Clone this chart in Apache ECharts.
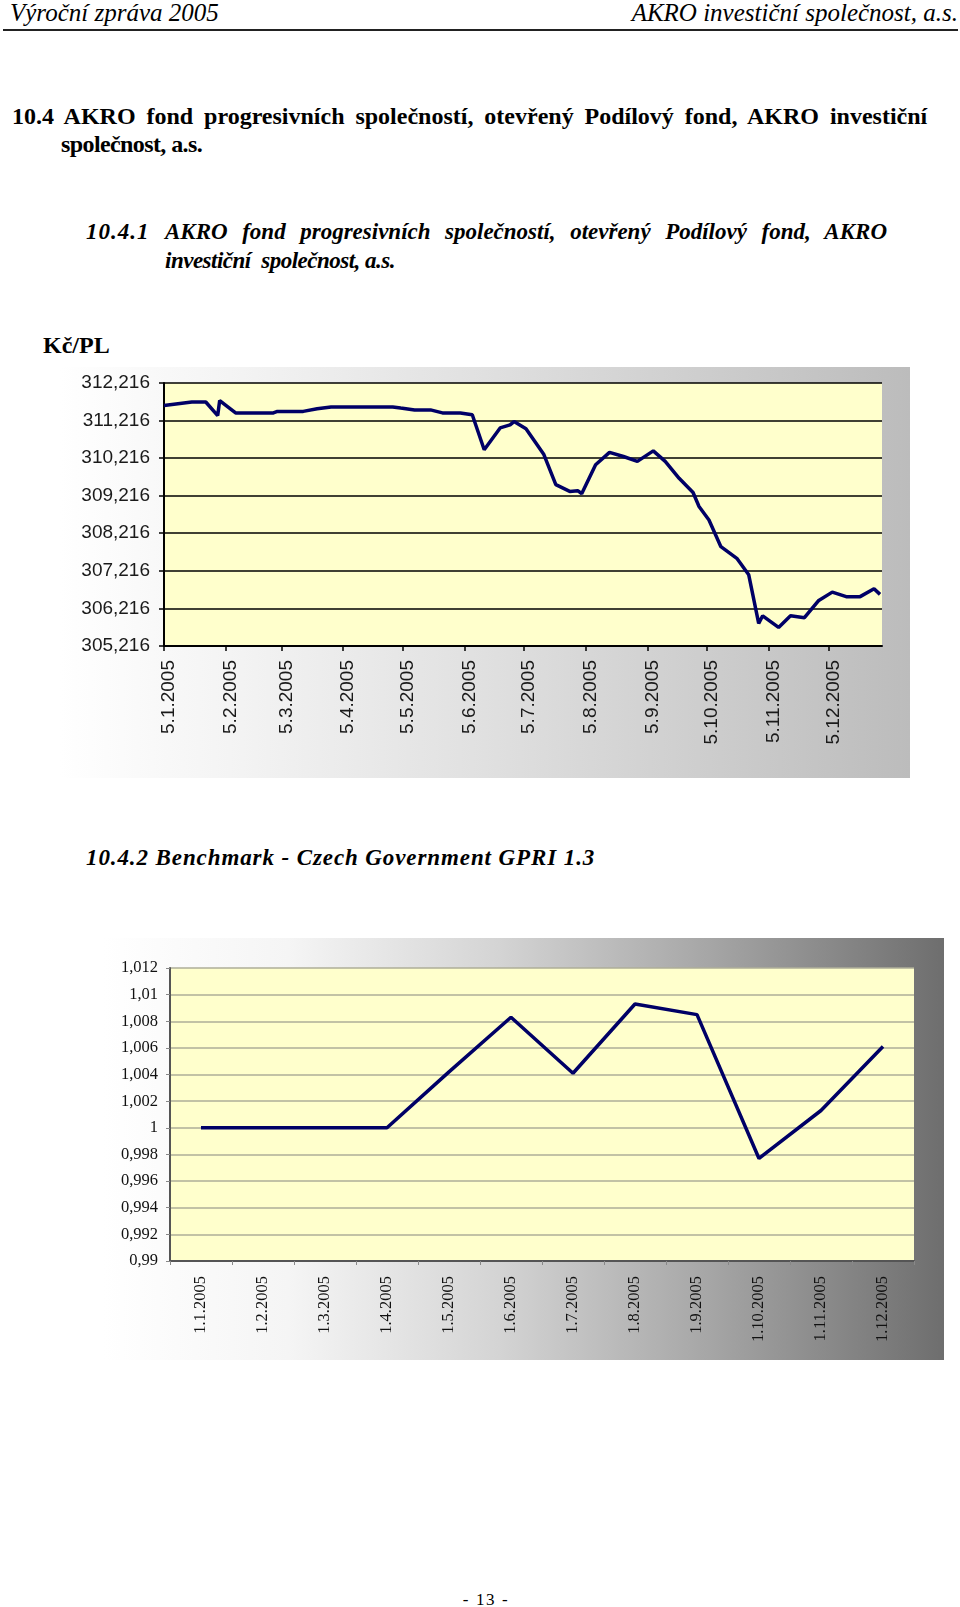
<!DOCTYPE html>
<html lang="cs">
<head>
<meta charset="utf-8">
<title>Výroční zpráva 2005</title>
<script src="https://cdn.jsdelivr.net/npm/echarts@6.0.0/dist/echarts.min.js"></script>
<style>
  html, body { margin: 0; padding: 0; background: #fff; }
  body { position: relative; width: 960px; height: 1607px; overflow: hidden; font-family: "Liberation Serif", "Times New Roman", serif; color: #000; }
  .abs { position: absolute; white-space: nowrap; }
  .rule { position: absolute; left: 3px; top: 29px; width: 955px; height: 2px; background: #222; }
  #fund { position: absolute; left: 60px; top: 367px; width: 850px; height: 411px;
    background: linear-gradient(to right, #ffffff 0%, #f4f4f4 20%, #e0e0e0 50%, #bcbcbc 100%); }
  #bench { position: absolute; left: 103px; top: 938px; width: 841px; height: 422px;
    background: linear-gradient(to right, #ffffff 0%, #f5f5f5 22%, #d4d4d4 47%, #a6a6a6 72%, #6e6e6e 100%); }
</style>
</head>
<body>
<div class="abs" style="left:10px;top:0;font:italic 25px/25px 'Liberation Serif'">Výroční zpráva 2005</div>
<div class="abs" style="right:2px;top:0;font:italic 25px/25px 'Liberation Serif'">AKRO investiční společnost, a.s.</div>
<div class="rule"></div>

<div class="abs" style="left:12px;top:102px;font:bold 24px/28px 'Liberation Serif'"><span style="word-spacing:4.9px">10.4 AKRO fond progresivních společností, otevřený Podílový fond, AKRO investiční</span><br><span style="padding-left:49px;letter-spacing:-0.6px">společnost, a.s.</span></div>

<div class="abs" style="left:86px;top:218px;font:italic bold 23px/28.7px 'Liberation Serif';letter-spacing:1px">10.4.1</div>
<div class="abs" style="left:165px;top:218px;font:italic bold 23px/28.7px 'Liberation Serif'"><span style="word-spacing:8.8px">AKRO fond progresivních společností, otevřený Podílový fond, AKRO</span><br><span style="letter-spacing:-0.5px">investiční&nbsp; společnost, a.s.</span></div>

<div class="abs" style="left:43px;top:333px;font:bold 24px/24px 'Liberation Serif'">Kč/PL</div>
<div id="fund"></div>

<div class="abs" style="left:86px;top:846px;font:italic bold 23px/23px 'Liberation Serif';letter-spacing:0.9px">10.4.2 Benchmark - Czech Government GPRI 1.3</div>
<div id="bench"></div>

<div class="abs" style="left:440px;width:92px;text-align:center;top:1591px;font:17px/17px 'Liberation Serif';letter-spacing:1.6px">- 13 -</div>

<script>
// hodnota podilu fondu (Kc/PL)
const fundDates = [
  '2005-01-05', '2005-01-19', '2005-01-26', '2005-02-01', '2005-02-02', '2005-02-10',
  '2005-03-01', '2005-03-03', '2005-03-16', '2005-03-23', '2005-03-30', '2005-03-31',
  '2005-04-06', '2005-04-30', '2005-05-04', '2005-05-11', '2005-05-19', '2005-05-25',
  '2005-06-03', '2005-06-09', '2005-06-15', '2005-06-23', '2005-06-28', '2005-06-30',
  '2005-07-06', '2005-07-15', '2005-07-21', '2005-07-28', '2005-08-01', '2005-08-03',
  '2005-08-10', '2005-08-17', '2005-08-24', '2005-08-31', '2005-09-08', '2005-09-14',
  '2005-09-21', '2005-09-28', '2005-10-01', '2005-10-06', '2005-10-12', '2005-10-20',
  '2005-10-26', '2005-10-31', '2005-11-02', '2005-11-10', '2005-11-16', '2005-11-23',
  '2005-11-30', '2005-12-07', '2005-12-14', '2005-12-21', '2005-12-28', '2005-12-31'
]
const fundValues = [
  311.62, 311.71, 311.71, 311.35, 311.75, 311.42,
  311.42, 311.46, 311.46, 311.53, 311.58, 311.53,
  311.58, 311.58, 311.55, 311.50, 311.50, 311.42,
  311.42, 311.37, 310.44, 311.02, 311.10, 311.19,
  311.00, 310.31, 309.51, 309.33, 309.35, 309.27,
  310.04, 310.37, 310.26, 310.13, 310.41, 310.13,
  309.68, 309.30, 308.93, 308.57, 307.86, 307.55,
  307.11, 305.82, 306.02, 305.71, 306.02, 305.97,
  306.42, 306.65, 306.53, 306.53, 306.74, 306.59
]
// popisky osy x (5. den kazdeho mesice)
const fundTicks = [
  '2005-01-05', '2005-02-05', '2005-03-05', '2005-04-05', '2005-05-05', '2005-06-05',
  '2005-07-05', '2005-08-05', '2005-09-05', '2005-10-05', '2005-11-05', '2005-12-05'
]
// popisky osy y
const fundYLabels = ['305,216', '306,216', '307,216', '308,216', '309,216', '310,216', '311,216', '312,216']
const fundStart = '2005-01-05'
const fundEnd = '2006-01-01'

// benchmark
const benchMonths = [
  '1.1.2005', '1.2.2005', '1.3.2005', '1.4.2005', '1.5.2005', '1.6.2005',
  '1.7.2005', '1.8.2005', '1.9.2005', '1.10.2005', '1.11.2005', '1.12.2005'
]
const benchValues = [
  1.000, 1.000, 1.000, 1.000, 1.0042, 1.0083,
  1.0041, 1.0093, 1.0085, 0.9977, 1.0013, 1.0061
]

// prevod data na pocet dni od zacatku osy
function toUtc (s) {
  let p = s.split('-')
  return Date.UTC(+p[0], +p[1] - 1, +p[2])
}
function dayOf (s) {
  return Math.round((toUtc(s) - toUtc(fundStart)) / 86400000)
}
function dayLabel (d) {
  let t = new Date(toUtc(fundStart) + d * 86400000)
  return t.getUTCDate() + '.' + (t.getUTCMonth() + 1) + '.' + t.getUTCFullYear()
}

let fundChart = echarts.init(document.getElementById('fund'))
fundChart.setOption({
  animation: false,
  grid: {
    left: 104, top: 16, right: 28, bottom: 132,
    show: true, backgroundColor: '#ffffcc', borderWidth: 0
  },
  xAxis: {
    type: 'value',
    min: 0,
    max: dayOf(fundEnd),
    axisLine: { lineStyle: { color: '#000', width: 2 } },
    axisTick: { show: true, length: 5, lineStyle: { color: '#000', width: 1.5 }, customValues: fundTicks.map(dayOf) },
    axisLabel: {
      customValues: fundTicks.map(dayOf),
      rotate: 90, margin: 14, verticalAlign: 'top', lineHeight: 10,
      fontFamily: 'Liberation Sans', fontSize: 19, color: '#1a1a1a',
      formatter: (v) => dayLabel(v)
    },
    splitLine: { show: false }
  },
  yAxis: {
    type: 'value',
    min: 305.216,
    max: 312.216,
    interval: 1,
    axisLine: { show: true, lineStyle: { color: '#000', width: 2 } },
    axisTick: { show: true, length: 5, lineStyle: { color: '#000', width: 1.5 } },
    axisLabel: {
      margin: 14,
      fontFamily: 'Liberation Sans', fontSize: 19, color: '#1a1a1a',
      formatter: (v, i) => fundYLabels[i]
    },
    splitLine: { lineStyle: { color: '#000', width: 1.5 } }
  },
  series: [
    {
      name: 'Kč/PL',
      type: 'line',
      symbol: 'none',
      lineStyle: { color: '#000066', width: 3.5 },
      data: fundDates.map((d, i) => [dayOf(d), fundValues[i]])
    }
  ]
})

let benchChart = echarts.init(document.getElementById('bench'))
benchChart.setOption({
  animation: false,
  grid: {
    left: 67, top: 30, right: 30, bottom: 99,
    show: true, backgroundColor: '#ffffcc', borderWidth: 0
  },
  xAxis: {
    type: 'category',
    data: benchMonths,
    boundaryGap: true,
    axisLine: { lineStyle: { color: '#555', width: 2 } },
    axisTick: { show: true, length: 4, lineStyle: { color: '#888', width: 1 } },
    axisLabel: {
      interval: 0, rotate: 90, margin: 15,
      fontFamily: 'Liberation Serif', fontSize: 16.5, color: '#111'
    }
  },
  yAxis: {
    type: 'value',
    min: 0.99,
    max: 1.012,
    interval: 0.002,
    axisLine: { show: true, lineStyle: { color: '#555', width: 2 } },
    axisTick: { show: true, length: 4, lineStyle: { color: '#888', width: 1 } },
    axisLabel: {
      margin: 12,
      fontFamily: 'Liberation Serif', fontSize: 16.5, color: '#111',
      formatter: (v) => String(parseFloat(v.toFixed(3))).replace('.', ',')
    },
    splitLine: { lineStyle: { color: '#aeae98', width: 1.5 } }
  },
  series: [
    {
      name: 'GPRI 1.3',
      type: 'line',
      symbol: 'none',
      lineStyle: { color: '#000066', width: 3.5 },
      data: benchValues
    }
  ]
})
</script>
</body>
</html>
